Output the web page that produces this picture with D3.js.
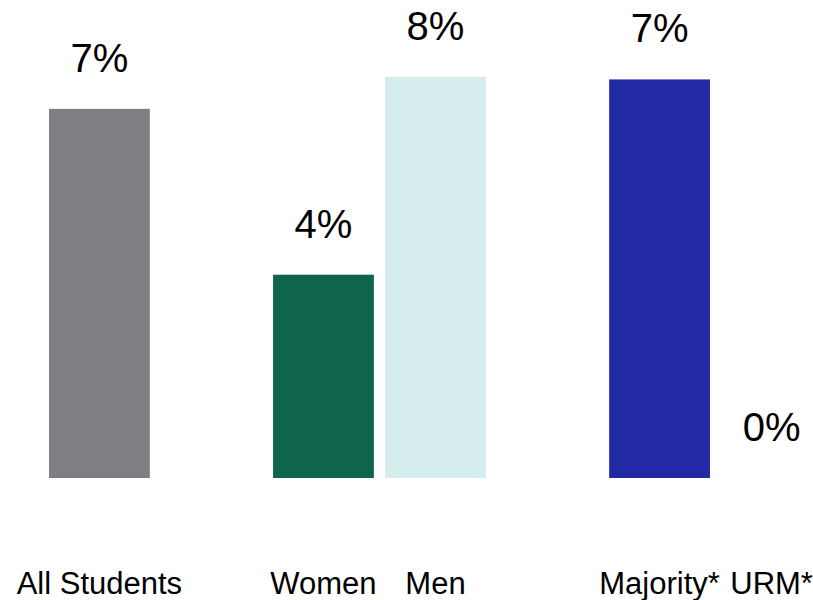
<!DOCTYPE html>
<html>
<head>
<meta charset="utf-8">
<script src="https://cdn.jsdelivr.net/npm/d3@7"></script>
<style>
  html, body { margin: 0; padding: 0; background: #fff; }
  text { font-family: "Liberation Sans", Arial, Helvetica, sans-serif; fill: #000; }
</style>
</head>
<body>
<div id="chart"></div>
<script>
// data
const categories = ["All Students", "Women", "Men", "Majority*", "URM*"];
const groups = ["all", "gender", "gender", "race", "race"];
const values = [6.9, 3.8, 7.5, 7.45, 0];
const valueLabels = ["7%", "4%", "8%", "7%", "0%"];
const colors = ["#7f7f83", "#0f644e", "#d5eded", "#2129a4", "#2129a4"];

const width = 813, height = 600;
const margin = { left: 49, right: -9, bottom: 122, top: 50 };

// band domain with an empty slot between groups
const slots = [];
categories.forEach((c, i) => {
  if (i > 0 && groups[i] !== groups[i - 1]) slots.push("__gap" + i);
  slots.push(c);
});

const svg = d3.select("#chart").append("svg")
  .attr("width", width)
  .attr("height", height);

const x = d3.scaleBand()
  .domain(slots)
  .range([margin.left, width - margin.right])
  .paddingInner(0.1)
  .paddingOuter(0);

const y = d3.scaleLinear()
  .domain([0, 8])
  .range([height - margin.bottom, margin.top]);

const data = categories.map((c, i) => ({
  name: c, value: values[i], label: valueLabels[i], color: colors[i]
}));

// bars
svg.selectAll(".bar")
  .data(data.filter(d => d.value > 0))
  .join("rect")
  .attr("class", "bar")
  .attr("x", d => x(d.name))
  .attr("y", d => y(d.value))
  .attr("width", x.bandwidth())
  .attr("height", d => y(0) - y(d.value))
  .attr("fill", d => d.color);

// value labels
svg.selectAll(".value")
  .data(data)
  .join("text")
  .attr("class", "value")
  .attr("x", d => x(d.name) + x.bandwidth() / 2)
  .attr("y", d => y(d.value) - 37)
  .attr("text-anchor", "middle")
  .style("font-size", "40px")
  .text(d => d.label);

// category labels
svg.selectAll(".cat")
  .data(data)
  .join("text")
  .attr("class", "cat")
  .attr("x", d => x(d.name) + x.bandwidth() / 2)
  .attr("y", 594)
  .attr("text-anchor", "middle")
  .style("font-size", "31px")
  .text(d => d.name);
</script>
</body>
</html>
